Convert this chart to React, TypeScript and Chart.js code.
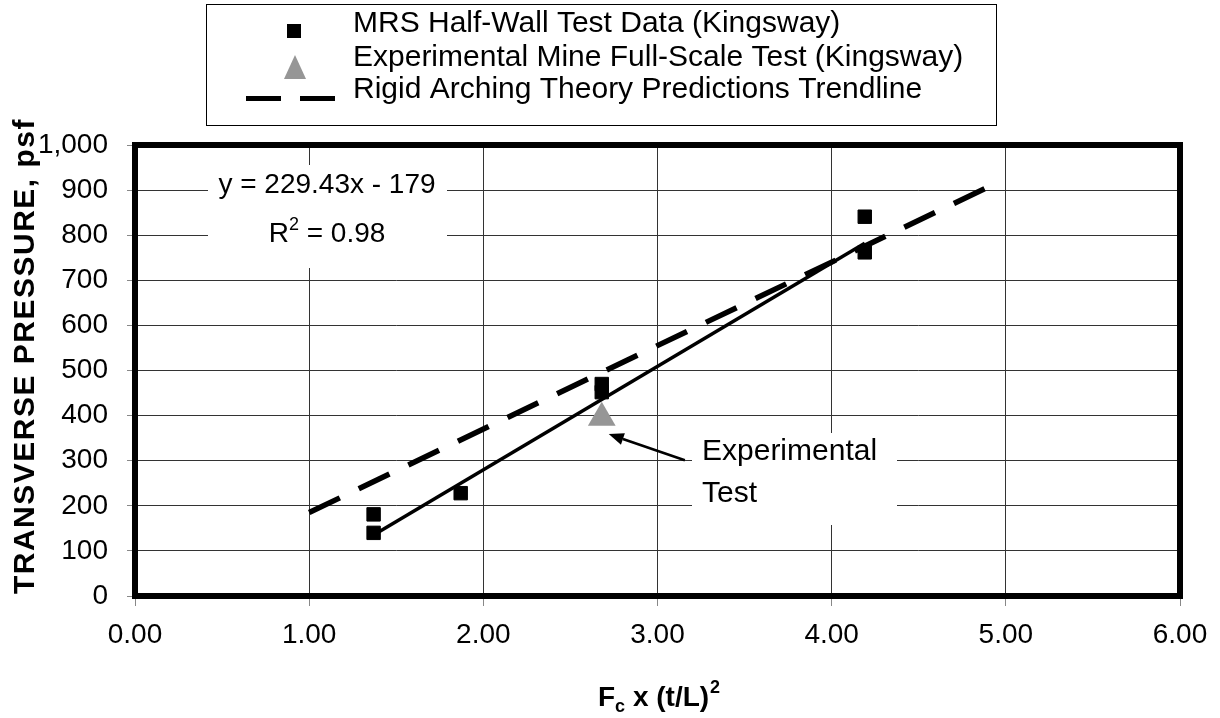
import React, { useEffect, useRef } from 'react';
import { Chart, registerables } from 'chart.js';

Chart.register(...registerables);

// ---- data ----
const mrsX = [1.37, 1.37, 1.87, 2.68, 2.68, 4.19, 4.19];
const mrsY = [181, 140, 228, 470, 452, 841, 762];
const expX = [2.68];
const expY = [395];
const rigidX = [1.0, 4.9];
const rigidY = [185, 907];
const fitX = [1.37, 4.19];
const fitY = [135, 782];

const xTicks = [0, 1, 2, 3, 4, 5, 6];
const yTicks = [0, 100, 200, 300, 400, 500, 600, 700, 800, 900, 1000];

const legendLabels = [
  'MRS Half-Wall Test Data (Kingsway)',
  'Experimental Mine Full-Scale Test (Kingsway)',
  'Rigid Arching Theory Predictions Trendline',
];
const equationText = 'y = 229.43x - 179';
const r2Value = ' = 0.98';
const annotationLines = ['Experimental', 'Test'];
const yTitle = 'TRANSVERSE PRESSURE, psf';

const FONT = '"Liberation Sans", Arial, Helvetica, sans-serif';
const GRAY = '#969696';

const pts = (xs: number[], ys: number[]) => xs.map((x, i) => ({ x, y: ys[i] }));

const decorPlugin = {
  id: 'decor',
  beforeDatasetsDraw(chart: any) {
    const ctx = chart.ctx as CanvasRenderingContext2D;
    const a = chart.chartArea;
    ctx.save();
    // white label boxes covering grid
    ctx.fillStyle = '#fff';
    ctx.fillRect(208, 165, 239, 103);
    ctx.fillRect(692, 433, 205, 92);
    // thick plot border
    ctx.strokeStyle = '#000';
    ctx.lineWidth = 6;
    ctx.strokeRect(a.left, a.top, a.right - a.left, a.bottom - a.top);
    ctx.restore();
  },
  afterDraw(chart: any) {
    const ctx = chart.ctx as CanvasRenderingContext2D;
    const xs = chart.scales.x;
    const ys = chart.scales.y;
    ctx.save();

    // ---- legend ----
    ctx.strokeStyle = '#000';
    ctx.lineWidth = 1;
    ctx.strokeRect(206.5, 4.5, 790, 121);
    ctx.fillStyle = '#000';
    ctx.fillRect(287, 24, 14, 14);
    ctx.fillStyle = GRAY;
    ctx.beginPath();
    ctx.moveTo(295, 55);
    ctx.lineTo(306, 79);
    ctx.lineTo(284, 79);
    ctx.closePath();
    ctx.fill();
    ctx.fillStyle = '#000';
    ctx.fillRect(246, 96, 35, 5);
    ctx.fillRect(300, 96, 35, 5);
    ctx.font = `30px ${FONT}`;
    ctx.textAlign = 'left';
    ctx.textBaseline = 'alphabetic';
    const base = [32, 66, 98];
    legendLabels.forEach((t, i) => ctx.fillText(t, 353, base[i]));

    // ---- equation ----
    ctx.font = `28px ${FONT}`;
    ctx.textAlign = 'center';
    ctx.fillText(equationText, 327, 193);
    ctx.textAlign = 'left';
    const wR = ctx.measureText('R').width;
    const wRest = ctx.measureText(r2Value).width;
    ctx.font = `18px ${FONT}`;
    const w2 = ctx.measureText('2').width;
    const total = wR + w2 + wRest;
    const x0 = 327 - total / 2;
    ctx.font = `28px ${FONT}`;
    ctx.fillText('R', x0, 242);
    ctx.font = `18px ${FONT}`;
    ctx.fillText('2', x0 + wR, 230);
    ctx.font = `28px ${FONT}`;
    ctx.fillText(r2Value, x0 + wR + w2, 242);

    // ---- annotation ----
    ctx.font = `30px ${FONT}`;
    ctx.fillText(annotationLines[0], 702, 460);
    ctx.fillText(annotationLines[1], 702, 502);
    const sx = xs.getPixelForValue(3.157), sy = ys.getPixelForValue(301);
    const tx = xs.getPixelForValue(2.72), ty = ys.getPixelForValue(359);
    const ang = Math.atan2(ty - sy, tx - sx);
    const hl = 15, hw = 6;
    const bx = tx - Math.cos(ang) * hl, by = ty - Math.sin(ang) * hl;
    ctx.strokeStyle = '#000';
    ctx.lineWidth = 2.5;
    ctx.beginPath();
    ctx.moveTo(sx, sy);
    ctx.lineTo(bx, by);
    ctx.stroke();
    ctx.beginPath();
    ctx.moveTo(tx, ty);
    ctx.lineTo(bx + Math.sin(ang) * hw, by - Math.cos(ang) * hw);
    ctx.lineTo(bx - Math.sin(ang) * hw, by + Math.cos(ang) * hw);
    ctx.closePath();
    ctx.fill();

    // ---- y title ----
    ctx.save();
    ctx.translate(26, 356);
    ctx.rotate(-Math.PI / 2);
    ctx.font = `bold 30px ${FONT}`;
    (ctx as any).letterSpacing = '1.5px';
    ctx.textAlign = 'center';
    ctx.textBaseline = 'middle';
    ctx.fillText(yTitle, 0, 0);
    ctx.restore();

    // ---- x title ----
    ctx.textAlign = 'left';
    ctx.textBaseline = 'alphabetic';
    let px = 598;
    const by0 = 706;
    ctx.font = `bold 28px ${FONT}`;
    ctx.fillText('F', px, by0);
    px += ctx.measureText('F').width;
    ctx.font = `bold 18px ${FONT}`;
    ctx.fillText('c', px, by0 + 6);
    px += ctx.measureText('c').width;
    ctx.font = `bold 28px ${FONT}`;
    ctx.fillText(' x (t/L)', px, by0);
    px += ctx.measureText(' x (t/L)').width;
    ctx.font = `bold 18px ${FONT}`;
    ctx.fillText('2', px + 1, by0 - 13);

    ctx.restore();
  },
};

export default function App() {
  const ref = useRef<HTMLCanvasElement | null>(null);
  useEffect(() => {
    if (!ref.current) return;
    const chart = new Chart(ref.current, {
      type: 'scatter',
      data: {
        datasets: [
          {
            label: 'Fit',
            data: pts(fitX, fitY),
            showLine: true,
            borderColor: '#000',
            borderWidth: 3.5,
            pointRadius: 0,
            fill: false,
          },
          {
            label: legendLabels[2],
            data: pts(rigidX, rigidY),
            showLine: true,
            borderColor: '#000',
            borderWidth: 5.5,
            borderDash: [34, 21],
            borderCapStyle: 'butt',
            pointRadius: 0,
            fill: false,
          },
          {
            label: legendLabels[1],
            data: pts(expX, expY),
            pointStyle: 'triangle',
            pointRadius: 16,
            backgroundColor: GRAY,
            borderColor: GRAY,
            borderWidth: 0,
          },
          {
            label: legendLabels[0],
            data: pts(mrsX, mrsY),
            pointStyle: 'rect',
            pointRadius: 9.5,
            backgroundColor: '#000',
            borderColor: '#000',
            borderWidth: 1,
          },
        ],
      } as any,
      options: {
        animation: false,
        responsive: true,
        maintainAspectRatio: false,
        layout: { padding: { left: 0, top: 145, right: 40, bottom: 62 } },
        plugins: { legend: { display: false }, tooltip: { enabled: false }, title: { display: false } },
        scales: {
          x: {
            type: 'linear',
            min: 0,
            max: 6,
            afterBuildTicks: (s: any) => {
              s.ticks = xTicks.map((v) => ({ value: v }));
            },
            afterFit: (s: any) => {
              s.height = 60;
            },
            ticks: {
              callback: (v: any) => Number(v).toFixed(2),
              font: { family: FONT, size: 28 },
              color: '#000',
              padding: 12,
              maxRotation: 0,
              autoSkip: false,
            },
            grid: { color: '#333', lineWidth: 1, tickLength: 10, tickColor: '#888', drawTicks: true },
            border: { display: false },
          },
          y: {
            type: 'linear',
            min: 0,
            max: 1000,
            afterBuildTicks: (s: any) => {
              s.ticks = yTicks.map((v) => ({ value: v }));
            },
            afterFit: (s: any) => {
              s.width = 135;
            },
            ticks: {
              callback: (v: any) => Number(v).toLocaleString('en-US'),
              font: { family: FONT, size: 28 },
              color: '#000',
              padding: 19,
              autoSkip: false,
            },
            grid: { color: '#333', lineWidth: 1, tickLength: 8, tickColor: '#888', drawTicks: true },
            border: { display: false },
          },
        },
      } as any,
      plugins: [decorPlugin],
    });
    return () => chart.destroy();
  }, []);

  return (
    <div style={{ position: 'fixed', left: 0, top: 0, width: 1220, height: 718, background: '#fff' }}>
      <canvas ref={ref} />
    </div>
  );
}
